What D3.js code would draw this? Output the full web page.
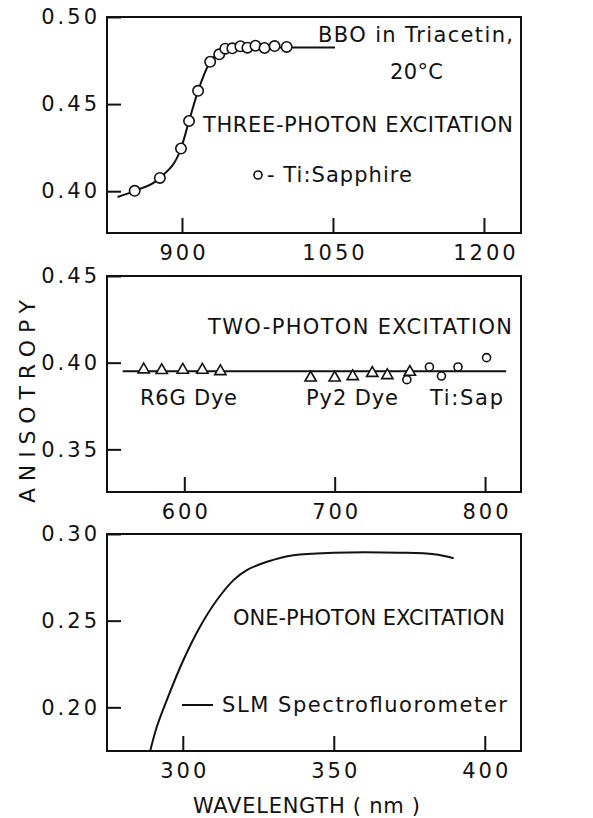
<!DOCTYPE html>
<html>
<head>
<meta charset="utf-8">
<script src="https://cdn.jsdelivr.net/npm/d3@7"></script>
<style>
body { margin: 0; background: #fff; }
text { font-family: "DejaVu Sans", sans-serif; fill: #111; }
.tick text { font-size: 21px; letter-spacing: 3px; }
.tick line { stroke: #111; stroke-width: 2; }
.domain { display: none; }
</style>
</head>
<body>
<svg id="chart" width="593" height="818"></svg>
<script>
// three-photon excitation, Ti:Sapphire points + fitted curve
var threeWl = [853, 878, 899, 907, 916, 928, 937, 943, 950, 958, 965, 973, 982, 992, 1004];
var threeR  = [0.4002, 0.4076, 0.4245, 0.4403, 0.4576, 0.4743, 0.4786, 0.4818, 0.4820, 0.4832, 0.4824, 0.4835, 0.4822, 0.4833, 0.4828];
var threeFitWl = [836, 853, 878, 899, 907, 916, 928, 937, 948, 965, 1052];
var threeFitR  = [0.3967, 0.4002, 0.4076, 0.4245, 0.4403, 0.4576, 0.4743, 0.4795, 0.4815, 0.4825, 0.4825];

// two-photon excitation
var r6gWl = [573, 585, 599, 612, 624];
var r6gR  = [0.3960, 0.3956, 0.3958, 0.3958, 0.3950];
var py2Wl = [684, 700, 712, 725, 735, 750];
var py2R  = [0.3913, 0.3913, 0.3921, 0.3940, 0.3927, 0.3946];
var tisapWl = [748, 763, 771, 782, 801];
var tisapR  = [0.3902, 0.3975, 0.3923, 0.3975, 0.4029];
var twoFitWl = [559, 814];
var twoFitR  = [0.395, 0.395];

// one-photon excitation, SLM spectrofluorometer
var oneWl = [289.2, 291.4, 294.7, 300.2, 305.7, 311.3, 316.8, 321.2, 327.9, 336.7, 350, 372, 383.3, 389.7];
var oneR  = [0.1748, 0.1888, 0.2042, 0.2273, 0.2465, 0.2619, 0.2734, 0.2792, 0.2840, 0.2878, 0.2892, 0.2892, 0.2883, 0.2860];

var svg = d3.select("#chart");
var left = 107, right = 521;

function zip(a, b) { return a.map(function(v, i) { return [v, b[i]]; }); }

function label(txt, x, y, w, size) {
    return svg.append("text")
        .attr("x", x).attr("y", y)
        .attr("textLength", w)
        .attr("lengthAdjust", "spacing")
        .style("font-size", (size || 21) + "px")
        .text(txt);
}

function panel(top, bottom, xDom, yDom, xTicks, yTicks) {
    var x = d3.scaleLinear().domain(xDom).range([left, right]);
    var y = d3.scaleLinear().domain(yDom).range([bottom, top]);

    svg.append("rect")
        .attr("x", left).attr("y", top)
        .attr("width", right - left).attr("height", bottom - top)
        .attr("fill", "none").attr("stroke", "#111").attr("stroke-width", 2);

    svg.append("g")
        .attr("transform", "translate(" + left + ",0)")
        .call(d3.axisLeft(y).tickValues(yTicks).tickSize(-14).tickPadding(7).tickFormat(d3.format(".2f")));

    svg.append("g")
        .attr("transform", "translate(0," + bottom + ")")
        .call(d3.axisBottom(x).tickValues(xTicks).tickSize(-15).tickPadding(12).tickFormat(d3.format("d")))
        .selectAll(".tick text").attr("dx", "1.5px");

    return { x: x, y: y };
}

function curve(p, xs, ys, c) {
    var line = d3.line()
        .x(function(d) { return p.x(d[0]); })
        .y(function(d) { return p.y(d[1]); })
        .curve(c || d3.curveMonotoneX);
    svg.append("path")
        .datum(zip(xs, ys))
        .attr("d", line)
        .attr("fill", "none").attr("stroke", "#111").attr("stroke-width", 2);
}

function circles(p, xs, ys, r) {
    svg.append("g").selectAll("circle")
        .data(zip(xs, ys))
        .enter().append("circle")
        .attr("cx", function(d) { return p.x(d[0]); })
        .attr("cy", function(d) { return p.y(d[1]); })
        .attr("r", r)
        .attr("fill", "#fff").attr("stroke", "#111").attr("stroke-width", 1.6);
}

function triangles(p, xs, ys) {
    svg.append("g").selectAll("path")
        .data(zip(xs, ys))
        .enter().append("path")
        .attr("d", d3.symbol(d3.symbolTriangle, 55))
        .attr("transform", function(d) { return "translate(" + p.x(d[0]) + "," + p.y(d[1]) + ")"; })
        .attr("fill", "#fff").attr("stroke", "#111").attr("stroke-width", 1.6);
}

// top: three-photon
var p1 = panel(17, 233, [825.5, 1236.8], [0.376, 0.50], [900, 1050, 1200], [0.40, 0.45, 0.50]);
curve(p1, threeFitWl, threeFitR);
circles(p1, threeWl, threeR, 5.2);
label("BBO in Triacetin,", 318, 42, 195);
label("20°C", 390, 79, 53);
label("THREE-PHOTON EXCITATION", 203, 132, 310);
svg.append("circle").attr("cx", 258).attr("cy", 175).attr("r", 4)
    .attr("fill", "#fff").attr("stroke", "#111").attr("stroke-width", 1.6);
label("- Ti:Sapphire", 267, 182, 145);

// middle: two-photon
var p2 = panel(276, 492, [548.6, 823.9], [0.3254, 0.45], [600, 700, 800], [0.35, 0.40, 0.45]);
curve(p2, twoFitWl, twoFitR, d3.curveLinear);
triangles(p2, r6gWl, r6gR);
triangles(p2, py2Wl, py2R);
circles(p2, tisapWl, tisapR, 4);
label("TWO-PHOTON EXCITATION", 208, 334, 304);
label("R6G Dye", 140, 405, 97);
label("Py2 Dye", 306, 405, 92);
label("Ti:Sap", 430, 405, 73);

// bottom: one-photon
var p3 = panel(534, 751, [274.9, 412], [0.1748, 0.30], [300, 350, 400], [0.20, 0.25, 0.30]);
curve(p3, oneWl, oneR, d3.curveCatmullRom);
label("ONE-PHOTON EXCITATION", 233, 625, 272);
svg.append("line").attr("x1", 182).attr("x2", 213).attr("y1", 705).attr("y2", 705)
    .attr("stroke", "#111").attr("stroke-width", 2);
label("SLM Spectrofluorometer", 222, 712, 285);

// axis titles
label("WAVELENGTH ( nm )", 193, 813, 227);
svg.append("text")
    .attr("transform", "translate(35,503) rotate(-90)")
    .attr("textLength", 203)
    .attr("lengthAdjust", "spacing")
    .style("font-size", "22px")
    .text("ANISOTROPY");
</script>
</body>
</html>
